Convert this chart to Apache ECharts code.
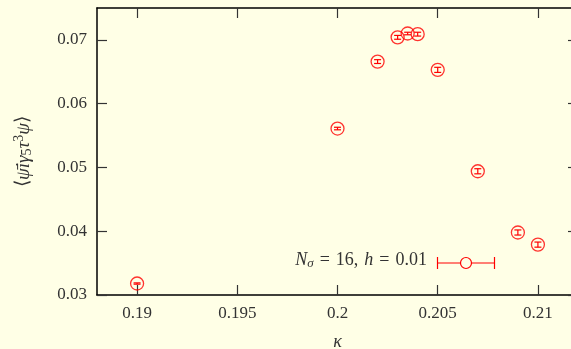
<!DOCTYPE html>
<html>
<head>
<meta charset="utf-8">
<script src="https://cdn.jsdelivr.net/npm/echarts@6/dist/echarts.min.js"></script>
<style>
  html, body { margin: 0; padding: 0; background: #ffffe6; }
  #chart { width: 571px; height: 349px; }
</style>
</head>
<body>
<div id="chart"></div>
<script>
// data
const kappa = [0.19, 0.2, 0.202, 0.203, 0.2035, 0.204, 0.205, 0.207, 0.209, 0.21];
const value = [0.0318, 0.0561, 0.0666, 0.0704, 0.0710, 0.0709, 0.0653, 0.0494, 0.0398, 0.0379];
const error = [0.0001, 0.0002, 0.0003, 0.0003, 0.0002, 0.0003, 0.0004, 0.0004, 0.0004, 0.0004];
const xTicks = [0.19, 0.195, 0.2, 0.205, 0.21];
const yTicks = [0.03, 0.04, 0.05, 0.06, 0.07];

const RED = "#ff0000";
const INK = "#333333";
const FONT = "Liberation Serif";

const points = kappa.map((k, i) => [k, value[i], error[i]]);

const chart = echarts.init(document.getElementById("chart"));

const xBase = {
  type: "value",
  min: 0.188,
  max: 0.212,
  axisLine: { show: true, onZero: false, lineStyle: { color: "#000", width: 1.5 } },
  axisTick: { show: true, inside: true, length: 10, customValues: xTicks, lineStyle: { color: INK, width: 1.2 } },
  splitLine: { show: false },
};
const yBase = {
  type: "value",
  min: 0.03,
  max: 0.075,
  axisLine: { show: true, onZero: false, lineStyle: { color: "#000", width: 1.5 } },
  axisTick: { show: true, inside: true, length: 10, customValues: yTicks, lineStyle: { color: INK, width: 1.2 } },
  splitLine: { show: false },
};

const option = {
  backgroundColor: "#ffffe6",
  animation: false,
  grid: { left: 97, top: 8, width: 481, height: 287, outerBoundsMode: "none", containLabel: false },
  xAxis: [
    Object.assign({}, xBase, {
      position: "bottom",
      axisLabel: {
        customValues: xTicks, margin: 10,
        color: INK, fontFamily: FONT, fontSize: 17,
      },
      name: "κ",
      nameLocation: "middle",
      nameGap: 38,
      nameTextStyle: { color: INK, fontFamily: FONT, fontSize: 18, fontStyle: "italic" },
    }),
    Object.assign({}, xBase, { position: "top", axisLabel: { show: false } }),
  ],
  yAxis: [
    Object.assign({}, yBase, {
      position: "left",
      axisLabel: {
        customValues: yTicks, margin: 10,
        color: INK, fontFamily: FONT, fontSize: 17,
      },
      name: "{t|⟨}{i|ψ̄iγ}{s|5}{i|τ}{p|3}{i|ψ}{t|⟩}",
      nameLocation: "middle",
      nameRotate: 90,
      nameGap: 62,
      nameTextStyle: {
        rich: {
          t: { color: INK, fontFamily: FONT, fontSize: 19 },
          i: { color: INK, fontFamily: FONT, fontSize: 19, fontStyle: "italic" },
          s: { color: INK, fontFamily: FONT, fontSize: 14, padding: [8, 0, 0, 0] },
          p: { color: INK, fontFamily: FONT, fontSize: 14, padding: [0, 0, 9, 0] },
        },
      },
    }),
    Object.assign({}, yBase, { position: "right", axisLabel: { show: false } }),
  ],
  series: [
    {
      type: "custom",
      xAxisIndex: 0,
      yAxisIndex: 0,
      data: points,
      silent: true,
      renderItem: function (params, api) {
        const x = api.value(0);
        const y = api.value(1);
        const e = api.value(2);
        const lo = api.coord([x, y - e]);
        const hi = api.coord([x, y + e]);
        const cap = 3.5;
        const st = { stroke: RED, lineWidth: 1.2 };
        return {
          type: "group",
          children: [
            { type: "line", shape: { x1: lo[0], y1: lo[1], x2: hi[0], y2: hi[1] }, style: st },
            { type: "line", shape: { x1: lo[0] - cap, y1: lo[1], x2: lo[0] + cap, y2: lo[1] }, style: st },
            { type: "line", shape: { x1: hi[0] - cap, y1: hi[1], x2: hi[0] + cap, y2: hi[1] }, style: st },
          ],
        };
      },
      z: 3,
    },
    {
      type: "scatter",
      xAxisIndex: 0,
      yAxisIndex: 0,
      data: points,
      symbol: "circle",
      symbolSize: 13,
      itemStyle: { color: "transparent", borderColor: RED, borderWidth: 1.3 },
      z: 4,
    },
  ],
  graphic: [
    {
      type: "text",
      right: 144,
      top: 251,
      style: {
        text: "{i|N}{s|σ}{t|\u2004=\u200416,\u2004}{i|h}{t|\u2004=\u20040.01}",
        rich: {
          t: { fill: INK, fontFamily: FONT, fontSize: 18 },
          i: { fill: INK, fontFamily: FONT, fontSize: 18, fontStyle: "italic" },
          s: { fill: INK, fontFamily: FONT, fontSize: 13, fontStyle: "italic", padding: [7, 0, 0, 0] },
        },
      },
    },
    { type: "line", shape: { x1: 437.5, y1: 263, x2: 494.5, y2: 263 }, style: { stroke: RED, lineWidth: 1.2 } },
    { type: "line", shape: { x1: 437.5, y1: 257, x2: 437.5, y2: 269 }, style: { stroke: RED, lineWidth: 1.2 } },
    { type: "line", shape: { x1: 494.5, y1: 257, x2: 494.5, y2: 269 }, style: { stroke: RED, lineWidth: 1.2 } },
    { type: "circle", shape: { cx: 466, cy: 263, r: 5.5 }, style: { fill: "#ffffe6", stroke: RED, lineWidth: 1.2 } },
  ],
};

chart.setOption(option);
window.addEventListener("resize", () => chart.resize());
</script>
</body>
</html>
